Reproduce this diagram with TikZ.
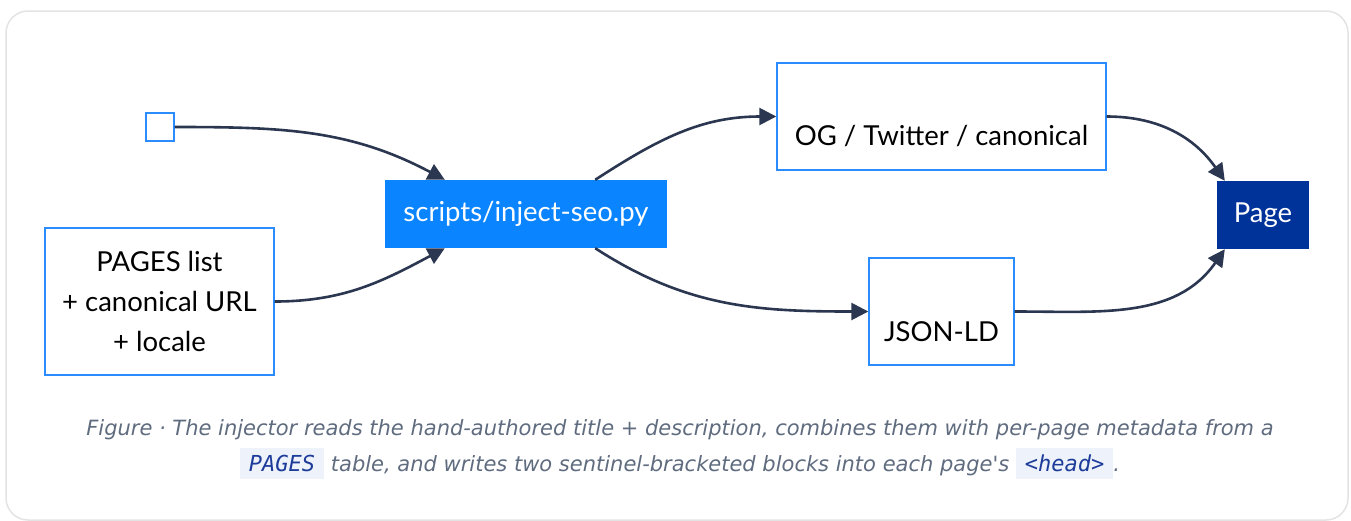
\documentclass[tikz,border=0pt]{standalone}
\usepackage{fontspec}
\setmainfont{Lato}
\newfontfamily\capfont{DejaVu Sans}
\setmonofont{DejaVu Sans Mono}
\usepackage{tikz}
\usetikzlibrary{arrows.meta,positioning}
\definecolor{edgeC}{HTML}{2B3750}
\definecolor{boxBlue}{HTML}{2A8CFF}
\definecolor{mainBlue}{HTML}{0A84FF}
\definecolor{navy}{HTML}{00339A}
\definecolor{capGray}{HTML}{5F6B7E}
\definecolor{chipBg}{HTML}{EDF2FB}
\definecolor{chipText}{HTML}{1D3C9A}
\definecolor{frameC}{HTML}{E3E3E3}
\tikzstyle{arrow} = [line width=2.6pt,draw=edgeC,-{Triangle[length=17pt,width=17pt]}]
\tikzstyle{plain} = [draw=boxBlue,line width=1.4pt,fill=white,font=\fontsize{27.5}{40}\selectfont,align=center]
\tikzstyle{filled} = [fill=mainBlue,text=white,font=\fontsize{27.5}{40}\selectfont]
\newcommand{\chip}[1]{{\setlength{\fboxsep}{7pt}\colorbox{chipBg}{\hspace{2pt}\textcolor{chipText}{\ttfamily\itshape\fontsize{22}{22}\selectfont #1}\hspace{2pt}}}}

\begin{document}
\begin{tikzpicture}[x=1pt,y=-1pt]
            \useasboundingbox (0,0) rectangle (1351,520);
            \draw[frameC, line width=1.5pt, rounded corners=22pt] (6,11) rectangle (1348,520);
            % inputs
            \node[draw=boxBlue, line width=1.4pt, fill=white, minimum size=28pt, inner sep=0pt] (seed) at (160,127) {};
            \node[plain, minimum width=229pt, minimum height=147pt] (pages) at (159.5,301.5)
                {PAGES list\\+ canonical URL\\+ locale};
            % injector
            \node[filled, minimum width=282pt, minimum height=68pt] (inject) at (526,214) {scripts/inject-seo.py};
            % outputs
            \node[plain, minimum width=329pt, minimum height=107pt] (og) at (941.5,116.5)
                {\vphantom{Ag}\\OG / Twitter / canonical};
            \node[plain, minimum width=145pt, minimum height=107pt] (jsonld) at (941.5,311.5) {\vphantom{Ag}\\JSON-LD};
            \node[filled, fill=navy, minimum width=92pt, minimum height=68pt] (page) at (1263,215) {Page};
            % connectors
            \draw[arrow] (seed.east) to[out=0, in=152] ([xshift=60pt]inject.north west);
            \draw[arrow] (pages.east) to[out=0, in=208] ([xshift=60pt]inject.south west);
            \draw[arrow] ([xshift=-72pt]inject.north east) to[out=33, in=180] (og.west);
            \draw[arrow] ([xshift=-72pt]inject.south east) to[out=-33, in=180] (jsonld.west);
            \draw[arrow] (og.east) to[out=0, in=125] ([xshift=8pt]page.north west);
            \draw[arrow] (jsonld.east) to[out=0, in=235] ([xshift=8pt]page.south west);
            % caption
            \node[text=capGray, font=\fontsize{21}{36}\selectfont\capfont\itshape, align=center] (caption) at (680,449)
                {Figure · The injector reads the hand-authored title + description, combines them with per-page metadata from a\\
                 \chip{PAGES} table, and writes two sentinel-bracketed blocks into each page's \chip{<head>}.};
\end{tikzpicture}
\end{document}
